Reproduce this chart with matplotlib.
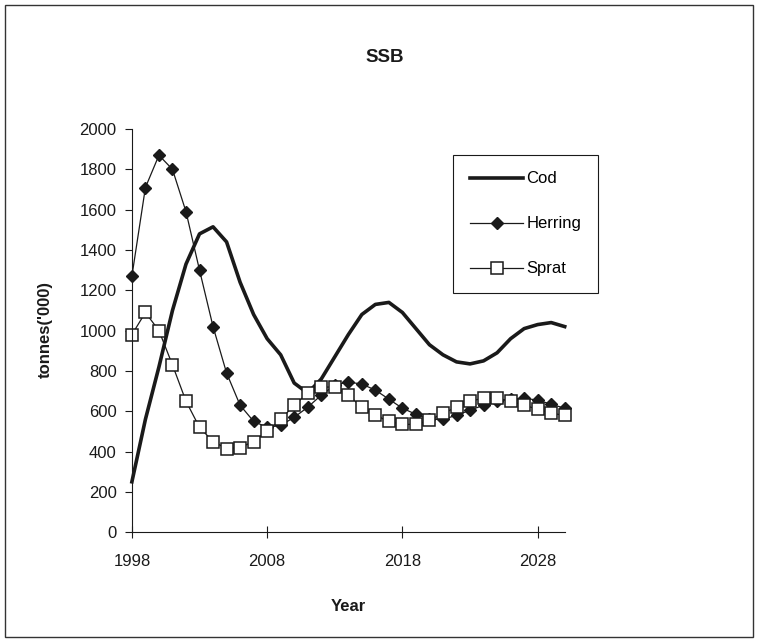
import matplotlib.pyplot as plt
from matplotlib.patches import Rectangle

years = list(range(1998, 2031))
cod = [250, 560, 820, 1100, 1330, 1480, 1515, 1440, 1240, 1080, 960, 880, 740,
       690, 760, 870, 980, 1080, 1130, 1140, 1090, 1010, 930, 880, 845, 835,
       850, 890, 960, 1010, 1030, 1040, 1020]
herring = [1270, 1710, 1870, 1800, 1590, 1300, 1020, 790, 630, 550, 520, 530,
           570, 620, 680, 730, 745, 735, 705, 660, 615, 585, 560, 560, 580,
           605, 630, 650, 660, 665, 655, 635, 615]
sprat = [980, 1090, 1000, 830, 650, 520, 450, 415, 420, 450, 500, 560, 630,
         690, 720, 720, 680, 620, 580, 550, 535, 535, 555, 590, 620, 650, 665,
         665, 650, 630, 610, 590, 580]
xticks = [1998, 2008, 2018, 2028]
yticks = list(range(0, 2001, 200))

plt.rcParams['font.family'] = ['Liberation Sans', 'DejaVu Sans']
ink = '#1a1a1a'

fig = plt.figure(figsize=(7.58, 6.42), dpi=100)
ax = fig.add_axes([0.174, 0.171, 0.571, 0.628])

ax.plot(years, cod, color=ink, lw=2.6, label='Cod')
ax.plot(years, herring, color=ink, lw=0.9, marker='D', ms=6.5,
        mfc=ink, mec=ink, label='Herring')
ax.plot(years, sprat, color=ink, lw=0.9, marker='s', ms=8.5,
        mfc='white', mec=ink, mew=1.1, label='Sprat')

ax.set_xlim(1998, 2030)
ax.set_ylim(0, 2000)
ax.set_xticks(xticks)
ax.set_yticks(yticks)
for s in ['top', 'right']:
    ax.spines[s].set_visible(False)
for s in ['left', 'bottom']:
    ax.spines[s].set_color(ink)
    ax.spines[s].set_linewidth(0.8)
ax.tick_params(axis='x', direction='inout', length=8, pad=12,
               labelsize=12, colors=ink)
ax.tick_params(axis='y', direction='out', length=5, pad=6,
               labelsize=12, colors=ink)
for ln in ax.lines:
    ln.set_clip_on(False)

leg = ax.legend(loc='upper left', bbox_to_anchor=(0.598, 0.759),
                bbox_transform=fig.transFigure, fontsize=12,
                handlelength=3.2, labelspacing=1.8, borderpad=1.0,
                handletextpad=0.2, borderaxespad=0, fancybox=False,
                edgecolor=ink, framealpha=1)
leg.get_frame().set_linewidth(0.8)

fig.text(0.507, 0.91, 'SSB', ha='center', va='center',
         fontsize=13.5, fontweight='bold', color=ink)
fig.text(0.06, 0.486, "tonnes('000)", ha='center', va='center',
         rotation=90, fontsize=12, fontweight='bold', color=ink)
fig.text(0.459, 0.055, 'Year', ha='center', va='center',
         fontsize=12, fontweight='bold', color=ink)

fig.patches.append(Rectangle((0.007, 0.008), 0.986, 0.984,
                             transform=fig.transFigure, fill=False,
                             edgecolor='#333333', lw=1.0))

fig.savefig('out.png', dpi=100)
